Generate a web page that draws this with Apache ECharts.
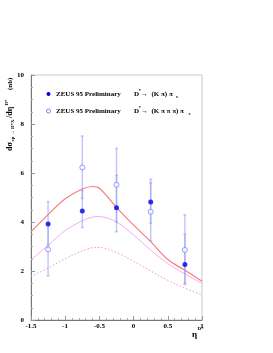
<!DOCTYPE html>
<html><head><meta charset="utf-8">
<script src="https://cdn.jsdelivr.net/npm/echarts@6/dist/echarts.min.js"></script>
<style>html,body{margin:0;padding:0;background:#fff}#c{width:273px;height:353px}</style>
</head><body><div id="c"></div>
<script>
const etaBins = [-1.25, -0.75, -0.25, 0.25, 0.75];
const kpiValues = [3.92, 4.45, 4.58, 4.82, 2.27];
const kpiLow = [3.05, 3.77, 3.6, 3.95, 1.45];
const kpiHigh = [4.83, 5.28, 5.9, 5.74, 3.5];
const k3piValues = [2.88, 6.23, 5.52, 4.42, 2.86];
const k3piLow = [1.8, 4.97, 4.0, 3.24, 1.5];
const k3piHigh = [3.96, 7.51, 7.0, 5.6, 4.29];
const curveEta = [-1.5, -1.25, -1, -0.75, -0.6, -0.5, -0.25, 0, 0.25, 0.5, 0.75, 1];
const curveRed = [3.6, 4.3, 4.95, 5.35, 5.45, 5.38, 4.6, 3.87, 3.2, 2.47, 2.03, 1.58];
const curvePink = [2.45, 3.05, 3.65, 4.05, 4.2, 4.22, 4.0, 3.47, 2.85, 2.3, 1.88, 1.5];
const curveDash = [1.77, 2.12, 2.5, 2.82, 2.95, 2.96, 2.75, 2.4, 2.0, 1.62, 1.3, 1.02];
const xTicks = [-1.5, -1, -0.5, 0, 0.5, 1];
const yTicks = [0, 2, 4, 6, 8, 10];

const FONT = '"Liberation Serif", "DejaVu Serif", serif';
const zip = (xs, ys) => xs.map((x, i) => [x, ys[i]]);
function errSeries(low, high) {
  return {
    type: 'custom', z: 2,
    data: etaBins.map((e, i) => [e, low[i], high[i]]),
    renderItem: function (params, api) {
      const p1 = api.coord([api.value(0), api.value(1)]);
      const p2 = api.coord([api.value(0), api.value(2)]);
      const st = {stroke: 'rgba(150,155,240,0.55)', lineWidth: 1.5};
      return {type: 'group', children: [
        {type: 'line', shape: {x1: p1[0], y1: p1[1], x2: p2[0], y2: p2[1]}, style: st},
        {type: 'line', shape: {x1: p1[0] - 1.5, y1: p1[1], x2: p1[0] + 1.5, y2: p1[1]}, style: st},
        {type: 'line', shape: {x1: p2[0] - 1.5, y1: p2[1], x2: p2[0] + 1.5, y2: p2[1]}, style: st}
      ]};
    }
  };
}
const chart = echarts.init(document.getElementById('c'));
const txt = (x, y, text, size, extra) => Object.assign({type: 'text', x: x, y: y,
  style: {text: text, font: 'bold ' + size + 'px ' + FONT, fill: '#000', textVerticalAlign: 'middle'}}, extra || {});
chart.setOption({
  animation: false,
  grid: {left: 31, top: 75, width: 171, height: 245, show: true, borderColor: '#c8c8c8', borderWidth: 1},
  xAxis: {type: 'value', min: -1.5, max: 1, interval: 0.5,
    axisLine: {onZero: false, lineStyle: {color: '#777', width: 1}},
    axisTick: {inside: true, length: 4, lineStyle: {color: '#999'}},
    minorTick: {show: true, splitNumber: 5, length: 2, lineStyle: {color: '#aaa'}},
    splitLine: {show: false},
    axisLabel: {margin: 3, fontFamily: FONT, fontWeight: 'bold', fontSize: 7, color: '#000',
      formatter: v => xTicks.indexOf(v) >= 0 ? String(v) : ''}},
  yAxis: {type: 'value', min: 0, max: 10, interval: 2,
    axisLine: {show: true, onZero: false, lineStyle: {color: '#777', width: 1}},
    axisTick: {show: true, inside: true, length: 4, lineStyle: {color: '#999'}},
    minorTick: {show: true, splitNumber: 4, length: 2, lineStyle: {color: '#aaa'}},
    splitLine: {show: false},
    axisLabel: {margin: 7, fontFamily: FONT, fontWeight: 'bold', fontSize: 7, color: '#000',
      formatter: v => yTicks.indexOf(v) >= 0 ? String(v) : ''}},
  series: [
    {type: 'line', data: curveEta.map((e, i) => [e, curveRed[i]]), smooth: 0.35, showSymbol: false,
      lineStyle: {color: '#f47f7f', width: 1.2}, z: 1},
    {type: 'line', data: curveEta.map((e, i) => [e, curvePink[i]]), smooth: 0.35, showSymbol: false,
      lineStyle: {color: '#f8a8f0', width: 1}, z: 1},
    {type: 'line', data: curveEta.map((e, i) => [e, curveDash[i]]), smooth: 0.35, showSymbol: false,
      lineStyle: {color: '#f090e8', width: 1, type: [1.5, 2]}, z: 1},
    errSeries(kpiLow, kpiHigh),
    errSeries(k3piLow, k3piHigh),
    {type: 'scatter', data: zip(etaBins, k3piValues), symbol: 'circle', symbolSize: 5,
      itemStyle: {color: '#fff', borderColor: '#7f7fff', borderWidth: 1}, z: 3},
    {type: 'scatter', data: zip(etaBins, kpiValues), symbol: 'circle', symbolSize: 5,
      itemStyle: {color: '#0000ee'}, z: 4}
  ],
  graphic: [
    {type: 'circle', shape: {cx: 48.5, cy: 94, r: 2}, style: {fill: '#0000ee'}},
    {type: 'circle', shape: {cx: 48.5, cy: 111, r: 2}, style: {fill: '#fff', stroke: '#7f7fff', lineWidth: 1}},
    txt(56, 94, 'ZEUS 95 Preliminary', 7),
    txt(56, 111, 'ZEUS 95 Preliminary', 7),
    txt(134, 94, 'D', 7), txt(138.5, 91, '*', 5), txt(141, 94, '→  (K π) π', 7), txt(176, 96.5, 's', 5),
    txt(134, 111, 'D', 7), txt(138.5, 108, '*', 5), txt(141, 111, '→  (K π π π) π', 7), txt(188.5, 113.5, 's', 5),
    txt(192, 335, 'η', 9), txt(197.5, 329, 'D*', 5),
    {type: 'group', x: 10, y: 151, rotation: Math.PI / 2, children: [
      txt(0, 0, 'dσ', 8),
      txt(9.5, 3, 'ep → D*X', 5),
      txt(33, 0, '/dη', 8),
      txt(45.5, -3, 'D*', 5),
      txt(61, 0, '(nb)', 7)
    ]}
  ]
});
</script></body></html>
